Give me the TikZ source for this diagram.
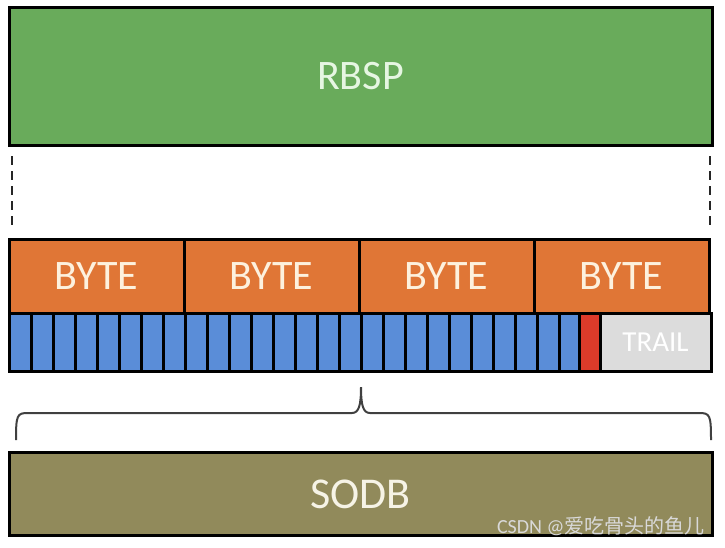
\documentclass[tikz,border=0pt]{standalone}
\usepackage{fontspec}
\setmainfont{Carlito}
\newfontfamily\cjkfont{Noto Sans CJK SC}
\definecolor{rbspgreen}{HTML}{69AB5B}
\definecolor{rbsptext}{HTML}{E6F6E2}
\definecolor{byteorange}{HTML}{E07636}
\definecolor{bytetext}{HTML}{FDF1DE}
\definecolor{bitblue}{HTML}{5A8DD8}
\definecolor{bitred}{HTML}{DD3B2A}
\definecolor{trailgray}{HTML}{DCDCDC}
\definecolor{sodbolive}{HTML}{918A5B}
\definecolor{sodbtext}{HTML}{F6F3E6}
\begin{document}
\begin{tikzpicture}[x=1pt,y=-1pt,
  box/.style={draw=black, line width=3pt, inner sep=0pt, anchor=center},
  bigbox/.style={box, minimum width=703pt},
  bytebox/.style={box, fill=byteorange, text=bytetext, minimum width=175pt, minimum height=74pt, font=\fontsize{42}{42}\selectfont},
  bitbox/.style={box, fill=bitblue, minimum width=22pt, minimum height=58pt},
  dashline/.style={draw=black!85, line width=2.6pt, dash pattern=on 9pt off 6pt},
  bracestyle/.style={draw=black!75, line width=2pt}]
\useasboundingbox (0,0) rectangle (725,547);
\fill[white] (0,0) rectangle (725,547);
% RBSP
\node[bigbox, fill=rbspgreen, text=rbsptext, minimum height=138pt, font=\fontsize{42}{42}\selectfont] (rbsp) at (360.5,76) {RBSP};
% bytes
\foreach \i in {0,1,2,3} {
  \node[bytebox] (byte\i) at (96.5+175*\i,276) {BYTE};
}
% bits
\foreach \i in {0,...,25} {
  \node[bitbox] (bit\i) at (20+22*\i,342) {};
}
\node[box, fill=bitred, minimum width=21pt, minimum height=58pt] (stop) at (589.5,342) {};
\node[box, fill=trailgray, text=white, minimum width=111pt, minimum height=58pt, font=\fontsize{29}{29}\selectfont] (trail) at (655.5,342) {TRAIL};
% dashed guides
\coordinate (dl1) at (12,156);
\coordinate (dl2) at (12,228);
\coordinate (dr1) at (710,156);
\coordinate (dr2) at (710,228);
\draw[dashline] (dl1) -- (dl2);
\draw[dashline] (dr1) -- (dr2);
% brace
\coordinate (bl) at (16,440);
\coordinate (br) at (711,440);
\coordinate (tip) at (361,387);
\draw[bracestyle] (bl) .. controls (16,415) and (17,413) .. (28,413) -- (352,413) .. controls (359,413) and (361,405) .. (tip)
  .. controls (361,405) and (363,413) .. (370,413) -- (699,413) .. controls (710,413) and (711,415) .. (br);
% SODB
\node[bigbox, fill=sodbolive, text=sodbtext, minimum height=83pt, font=\fontsize{44}{44}\selectfont] (sodb) at (360.5,494) {SODB};
% watermark
\node[anchor=east, text=white!85!black, font=\fontsize{20}{20}\selectfont] (wm) at (708,526) {CSDN @\cjkfont 爱吃骨头的鱼儿};
\end{tikzpicture}
\end{document}
